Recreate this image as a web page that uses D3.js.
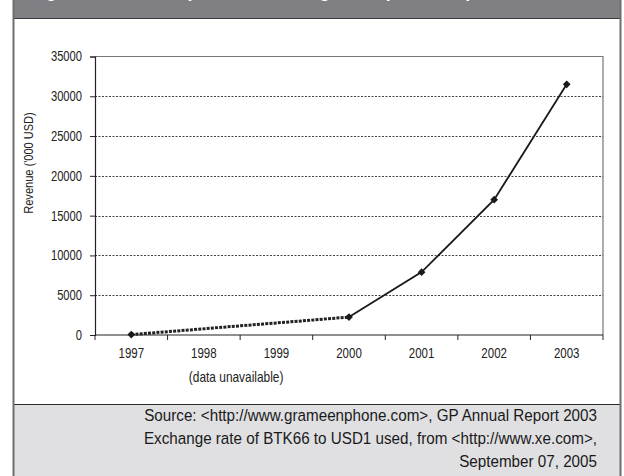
<!DOCTYPE html>
<html>
<head>
<meta charset="utf-8">
<script src="https://cdn.jsdelivr.net/npm/d3@7"></script>
<style>
  html, body { margin: 0; padding: 0; background: #ffffff; }
  svg { display: block; }
  text { font-family: "Liberation Sans", Arial, sans-serif; }
</style>
</head>
<body>
<svg id="chart" width="624" height="476"></svg>
<script>
// ---- data ----
const titleText = "Figure 2: Grameenphone revenue growth ('000 USD)";
const years = ["1997", "1998", "1999", "2000", "2001", "2002", "2003"];
const revenue = [50, null, null, 2250, 7900, 17000, 31500];
const yTicks = [0, 5000, 10000, 15000, 20000, 25000, 30000, 35000];
const yLabel = "Revenue ('000 USD)";
const gapNote = "(data unavailable)";
const gapYears = ["1998", "1999"];
const sourceLines = [
  "Source: <http://www.grameenphone.com>, GP Annual Report 2003",
  "Exchange rate of BTK66 to USD1 used, from <http://www.xe.com>,",
  "September 07, 2005"
];

const svg = d3.select("#chart");
const W = 624, H = 476;

// condensed text helper: horizontal scale sx, placed at (px, py) in page pixels
function cText(parent, px, py, sx) {
  return parent.append("text").attr("x", px / sx).attr("y", py)
    .attr("transform", `scale(${sx},1)`);
}

svg.append("rect").attr("x", 0).attr("y", 0).attr("width", W).attr("height", H).attr("fill", "#ffffff");
// header band
svg.append("rect").attr("x", 13).attr("y", 0).attr("width", 608).attr("height", 18).attr("fill", "#808084");
svg.append("line").attr("x1", 13).attr("x2", 621).attr("y1", 18.5).attr("y2", 18.5).attr("stroke", "#3a3a3c").attr("stroke-width", 1);
cText(svg, 30, -3.5, 0.85).attr("fill", "#ffffff").attr("font-weight", "bold")
  .attr("font-size", 21).text(titleText);
// footer band
svg.append("rect").attr("x", 13).attr("y", 404).attr("width", 608).attr("height", 72).attr("fill", "#e0e0e2");
svg.append("line").attr("x1", 13).attr("x2", 621).attr("y1", 404.5).attr("y2", 404.5).attr("stroke", "#2a2a2a").attr("stroke-width", 1.2);
// side borders
svg.append("line").attr("x1", 13.5).attr("x2", 13.5).attr("y1", 0).attr("y2", H).attr("stroke", "#6e6e70").attr("stroke-width", 2);
svg.append("line").attr("x1", 620.5).attr("x2", 620.5).attr("y1", 0).attr("y2", H).attr("stroke", "#6e6e70").attr("stroke-width", 2);

const plot = { left: 95, right: 603, top: 56.5, bottom: 335 };
const x = d3.scaleBand().domain(years).range([plot.left, plot.right]).padding(0);
const y = d3.scaleLinear().domain([0, 35000]).range([plot.bottom, plot.top]);

// gridlines
svg.append("g").selectAll("line").data(yTicks.filter(v => v > 0 && v < 35000)).join("line")
  .attr("x1", plot.left).attr("x2", plot.right)
  .attr("y1", d => Math.round(y(d)) + 0.5).attr("y2", d => Math.round(y(d)) + 0.5)
  .attr("stroke", "#444").attr("stroke-width", 1).attr("stroke-dasharray", "2,1.5");

// plot border (top & right)
svg.append("path")
  .attr("d", `M${plot.left},${plot.top}H${plot.right}V${plot.bottom}`)
  .attr("fill", "none").attr("stroke", "#777").attr("stroke-width", 1.2);

// y axis
const ySx = 0.8;
const yAxis = svg.append("g").attr("transform", `translate(${plot.left},0)`)
  .call(d3.axisLeft(y).tickValues(yTicks).tickSize(5).tickPadding(8).tickFormat(d3.format("d")));
yAxis.attr("font-family", null).attr("font-size", null);
yAxis.select(".domain").attr("stroke", "#222").attr("stroke-width", 1.2);
yAxis.selectAll(".tick line").attr("stroke", "#222");
yAxis.selectAll("text").attr("font-size", 14).attr("fill", "#222")
  .attr("x", -13 / ySx).attr("transform", `scale(${ySx},1)`);

// x axis: ticks at band boundaries
const xSx = 0.82;
const xAxisG = svg.append("g").attr("transform", `translate(0,${plot.bottom})`);
xAxisG.append("line").attr("x1", plot.left).attr("x2", plot.right).attr("y1", 0).attr("y2", 0)
  .attr("stroke", "#222").attr("stroke-width", 1.2);
const bounds = years.map(d => x(d)).concat([x(years[years.length - 1]) + x.bandwidth()]);
xAxisG.selectAll("line.tk").data(bounds).join("line").attr("class", "tk")
  .attr("x1", d => d).attr("x2", d => d).attr("y1", 0).attr("y2", 5)
  .attr("stroke", "#222").attr("stroke-width", 1);
xAxisG.selectAll("text").data(years).join("text")
  .attr("x", d => (x(d) + x.bandwidth() / 2) / xSx).attr("y", 23)
  .attr("transform", `scale(${xSx},1)`)
  .attr("text-anchor", "middle").attr("font-size", 14).attr("fill", "#222").text(d => d);

// note under gap years
cText(svg, (x(gapYears[0]) + x(gapYears[1]) + x.bandwidth()) / 2 - 4, 382, 0.85)
  .attr("text-anchor", "middle").attr("font-size", 14).attr("fill", "#222").text(gapNote);

// series
const pts = years.map((yr, i) => ({ yr, v: revenue[i] })).filter(d => d.v !== null);
const cx = d => x(d.yr) + x.bandwidth() / 2;
const line = d3.line().x(cx).y(d => y(d.v));

svg.append("path").datum(pts.slice(0, 2)).attr("d", line)
  .attr("fill", "none").attr("stroke", "#222").attr("stroke-width", 3).attr("stroke-dasharray", "3,1.2");
svg.append("path").datum(pts.slice(1)).attr("d", line)
  .attr("fill", "none").attr("stroke", "#1a1a1a").attr("stroke-width", 1.8);

svg.append("g").selectAll("path").data(pts).join("path")
  .attr("d", d3.symbol().type(d3.symbolSquare).size(30))
  .attr("transform", d => `translate(${cx(d)},${y(d.v)}) rotate(45)`)
  .attr("fill", "#1a1a1a");

// y label (rotated, condensed along its length)
svg.append("text").attr("transform", "translate(33,163) rotate(-90) scale(0.85,1)")
  .attr("text-anchor", "middle").attr("font-size", 13).attr("fill", "#222").text(yLabel);

// source text, condensed to fit the reference width
const srcG = svg.append("g");
const srcTexts = srcG.selectAll("text").data(sourceLines).join("text")
  .attr("y", (d, i) => 421 + i * 23)
  .attr("text-anchor", "end").attr("font-size", 17).attr("fill", "#1a1a1a").text(d => d);
const w0 = srcTexts.node().getComputedTextLength();
const sSx = Math.min(1, (597 - 144) / w0);
srcTexts.attr("x", 597 / sSx).attr("transform", `scale(${sSx},1)`);
</script>
</body>
</html>
